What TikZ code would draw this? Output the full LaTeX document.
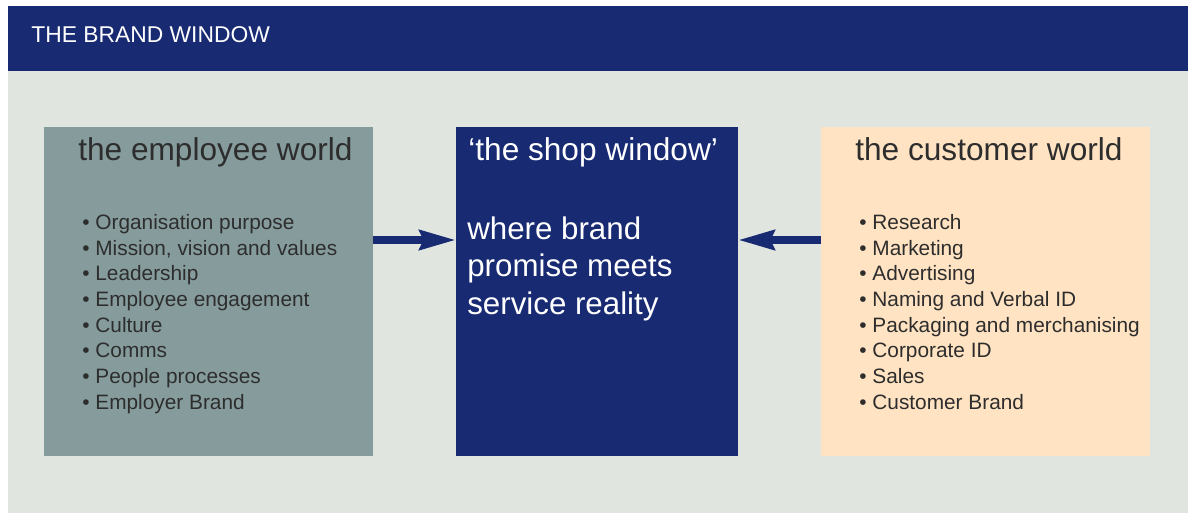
\documentclass[tikz,border=0pt]{standalone}
\usepackage{fontspec}
\setmainfont{Liberation Sans}
\usepackage{xcolor}
\definecolor{bwnavy}{RGB}{23,42,114}
\definecolor{bwback}{RGB}{224,229,224}
\definecolor{bwgrey}{RGB}{134,156,156}
\definecolor{bwpeach}{RGB}{255,227,194}
\definecolor{bwtext}{RGB}{45,45,45}
\usetikzlibrary{arrows.meta, positioning}

\tikzset{
  panel/.style={inner sep=0pt, minimum height=6.58cm},
  paneltitle/.style={anchor=base west, inner sep=0pt, font=\fontsize{18}{21}\selectfont},
  panellist/.style={anchor=north west, inner sep=0pt, align=left, bwtext, font=\fontsize{11.85}{14.6}\selectfont},
  worldarrow/.style={-{Stealth[length=0.72cm, width=0.39cm, inset=0.08cm]}, line width=0.146cm, bwnavy},
}

\begin{document}
\begin{tikzpicture}[x=0.02cm, y=-0.02cm]
  \useasboundingbox (0,0) rectangle (1193,513);
  \fill[white] (0,0) rectangle (1193,513);

  % Header bar and background
  \fill[bwback] (8,71) rectangle (1188,513);
  \fill[bwnavy] (8,6) rectangle (1188,71);
  \node[anchor=base west, inner sep=0pt, white, font=\fontsize{13}{15}\selectfont] (header) at (31,43) {THE BRAND WINDOW};

  % Left panel: employee world
  \node[panel, fill=bwgrey, minimum width=6.58cm] (employee) at (208.5,291.5) {};
  \node[paneltitle, bwtext] (employeetitle) at (78,161) {the employee world};
  \node[panellist] (employeelist) at (82,214) {%
    • Organisation purpose\\
    • Mission, vision and values\\
    • Leadership\\
    • Employee engagement\\
    • Culture\\
    • Comms\\
    • People processes\\
    • Employer Brand};

  % Middle panel: shop window
  \node[panel, fill=bwnavy, minimum width=5.64cm] (shop) at (597,291.5) {};
  \node[paneltitle, white] (shoptitle) at (468,161) {‘the shop window’};
  \node[anchor=north west, inner sep=0pt, align=left, white, font=\fontsize{17.8}{21.5}\selectfont] (shoptext) at (467,216) {%
    where brand\\
    promise meets\\
    service reality};

  % Right panel: customer world
  \node[panel, fill=bwpeach, minimum width=6.58cm] (customer) at (985.5,291.5) {};
  \node[paneltitle, bwtext] (customertitle) at (855,161) {the customer world};
  \node[panellist] (customerlist) at (859,214) {%
    • Research\\
    • Marketing\\
    • Advertising\\
    • Naming and Verbal ID\\
    • Packaging and merchanising\\
    • Corporate ID\\
    • Sales\\
    • Customer Brand};

  % Arrows into the shop window
  \coordinate (arrowline) at (0,240);
  \draw[worldarrow] (employee.east |- arrowline) -- (shop.west |- arrowline);
  \draw[worldarrow] (customer.west |- arrowline) -- (shop.east |- arrowline);
\end{tikzpicture}
\end{document}
